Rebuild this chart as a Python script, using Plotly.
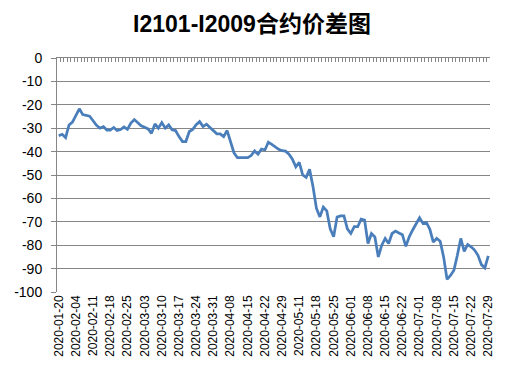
import plotly.graph_objects as go
import pandas as pd

# Trading-day calendar (China, 2020) used as categories
holidays = ["2020-01-24", "2020-01-27", "2020-01-28", "2020-01-29", "2020-01-30",
            "2020-01-31", "2020-04-06", "2020-05-01", "2020-05-04", "2020-05-05",
            "2020-06-25", "2020-06-26"]
dates = [d.strftime("%Y-%m-%d") for d in pd.bdate_range("2020-01-20", "2020-07-29")
         if d.strftime("%Y-%m-%d") not in holidays]

# I2101 - I2009 spread values
spread = [
    -33.2, -32.6, -34.0, -28.6, -27.4, -24.5, -21.7, -24.2, -24.6, -24.9,
    -26.8, -28.8, -30.0, -29.3, -30.8, -30.8, -29.7, -31.0, -30.6, -29.5,
    -30.5, -27.8, -26.3, -27.5, -29.0, -29.6, -30.3, -32.2, -28.2, -30.0,
    -27.6, -30.0, -28.6, -30.7, -31.0, -33.6, -35.7, -35.7, -31.4, -30.5,
    -28.5, -27.2, -29.3, -28.3, -29.8, -31.0, -32.4, -32.4, -33.6, -31.0,
    -35.5, -40.5, -42.6, -42.6, -42.6, -42.6, -41.7, -39.7, -41.1, -38.9,
    -39.3, -36.0, -36.9, -37.9, -39.0, -39.6, -39.8, -41.1, -43.2, -46.5,
    -44.6, -50.0, -51.0, -47.6, -55.0, -64.3, -67.9, -63.7, -65.3, -73.0,
    -76.4, -68.0, -67.5, -67.5, -73.0, -75.0, -72.1, -72.1, -68.9, -69.3,
    -79.3, -75.0, -76.5, -85.0, -80.0, -77.1, -79.3, -75.0, -74.0, -74.8,
    -75.5, -80.5, -76.4, -73.5, -70.7, -68.3, -70.7, -70.3, -73.2, -78.7,
    -77.1, -78.3, -85.0, -94.6, -92.9, -90.7, -84.3, -77.1, -82.6, -79.7,
    -80.7, -82.1, -84.3, -88.3, -89.7, -84.6,
]

tick_labels = dates[::5]
y_ticks = list(range(-100, 1, 10))
title_text = "I2101-I2009合约价差图"

GRID = "#868686"
OFF = 8  # default page body margin
W, H = 505 - OFF, 382 - OFF
ML, MR, MT, MB = 57 - OFF, 15, 58 - OFF, 90
PW, PH = W - ML - MR, H - MT - MB

fig = go.Figure()
fig.add_trace(go.Scatter(
    x=dates, y=spread, mode="lines",
    line=dict(color="#4A7EBB", width=2.75),
    xaxis="x", yaxis="y", showlegend=False,
))
# invisible companion trace so the top category axis (tick marks) renders
fig.add_trace(go.Scatter(
    x=dates, y=spread, mode="lines", line=dict(width=0), opacity=0,
    xaxis="x2", yaxis="y", hoverinfo="skip", showlegend=False,
))

fig.update_layout(
    width=W, height=H,
    margin=dict(l=ML, r=MR, t=MT, b=MB, autoexpand=False),
    paper_bgcolor="white", plot_bgcolor="white",
    title=dict(
        text=title_text, xref="container", yref="container",
        x=(252 - OFF) / W, y=1 - (24 - OFF) / H, xanchor="center", yanchor="middle",
        font=dict(family="Liberation Sans, Noto Sans CJK SC", size=23,
                  color="black", weight="bold"),
    ),
    xaxis=dict(
        type="category", categoryorder="array", categoryarray=dates,
        range=[-0.5, len(dates) - 0.5],
        tickmode="array", tickvals=tick_labels, ticktext=tick_labels,
        tickangle=-90, ticks="", showgrid=False, showline=False, zeroline=False,
        tickfont=dict(family="Liberation Sans", size=12, color="black"),
    ),
    xaxis2=dict(
        type="category", categoryorder="array", categoryarray=dates,
        overlaying="x", side="top", range=[-0.5, len(dates) - 0.5],
        tickmode="linear", tick0=0, dtick=1, tickson="boundaries",
        ticks="inside", ticklen=4, tickcolor=GRID, tickwidth=1,
        showticklabels=False, showgrid=False, zeroline=False,
        showline=True, linecolor=GRID, linewidth=1,
    ),
    yaxis=dict(
        range=[-100, 0], tickmode="array", tickvals=y_ticks,
        ticktext=[str(v) for v in y_ticks],
        showgrid=True, gridcolor=GRID, gridwidth=1, zeroline=False,
        showline=True, linecolor=GRID, linewidth=1,
        ticks="outside", ticklen=5, tickcolor=GRID,
        ticklabelstandoff=6,
        tickfont=dict(family="Liberation Sans", size=14, color="black"),
    ),
    shapes=[dict(
        type="line", xref="paper", yref="paper",
        x0=(503 - 57) / PW, x1=(503 - 57) / PW,
        y0=-MB / PH, y1=1 + MT / PH,
        line=dict(color="#b0b0b0", width=1),
    )],
)

fig.write_html("out.html")
